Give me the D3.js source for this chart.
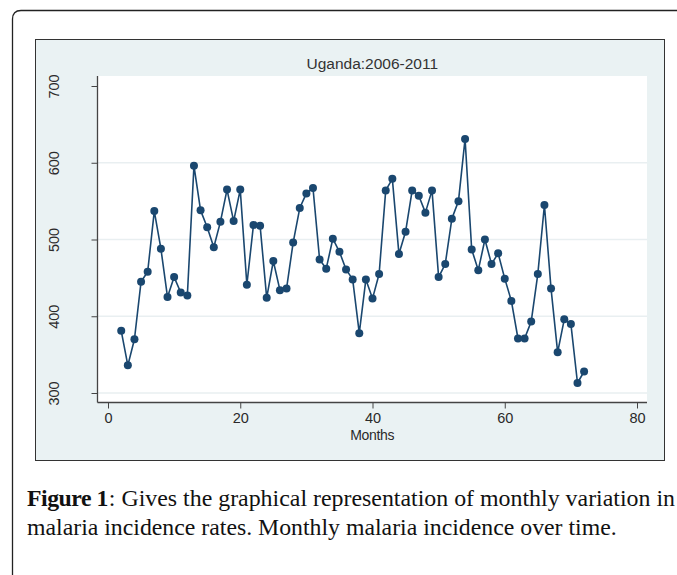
<!DOCTYPE html>
<html>
<head>
<meta charset="utf-8">
<title>Uganda:2006-2011</title>
<script src="https://d3js.org/d3.v7.min.js"></script>
<style>
  body { margin: 0; background: #fff; }
</style>
</head>
<body>
<div id="my_dataviz"></div>
<script>

// data: month index and monthly incidence
var months = [2, 3, 4, 5, 6, 7, 8, 9, 10, 11, 12, 13, 14, 15, 16, 17, 18, 19, 20, 21,
  22, 23, 24, 25, 26, 27, 28, 29, 30, 31, 32, 33, 34, 35, 36, 37, 38, 39, 40, 41,
  42, 43, 44, 45, 46, 47, 48, 49, 50, 51, 52, 53, 54, 55, 56, 57, 58, 59, 60, 61,
  62, 63, 64, 65, 66, 67, 68, 69, 70, 71, 72];
var incidence = [381, 336, 370, 445, 458, 537, 488, 425, 451, 431, 427, 596, 538, 516, 490, 523, 565, 524, 565, 441,
  519, 518, 424, 472, 434, 436, 496, 541, 560, 567, 474, 462, 501, 484, 461, 448, 378, 448, 423, 455,
  564, 579, 481, 510, 564, 557, 535, 564, 451, 468, 527, 550, 631, 487, 460, 500, 468, 482, 449, 420,
  371, 371, 393, 455, 545, 436, 353, 396, 390, 313, 328];

var xTicks = [0, 20, 40, 60, 80];
var yTicks = [300, 400, 500, 600, 700];
var gridTicks = [300, 400, 500, 600];

var chartTitle = "Uganda:2006-2011";
var xLabel = "Months";
var captionBold = "Figure 1";
var captionRest = ": Gives the graphical representation of monthly variation in";
var captionLine2 = "malaria incidence rates. Monthly malaria incidence over time.";

var W = 677, H = 575;
var navy = "#1a476f";

var svg = d3.select("#my_dataviz")
  .append("svg")
    .attr("width", W)
    .attr("height", H)
    .style("display", "block");

// page card outline (rounded top-left corner, runs off the right and bottom)
svg.append("path")
  .attr("d", "M12.5,590 V19 Q12.5,10.5 21,10.5 H690")
  .attr("fill", "none")
  .attr("stroke", "#222")
  .attr("stroke-width", 1.3);

// stata-style grey panel
svg.append("rect")
  .attr("x", 35.5).attr("y", 39.5)
  .attr("width", 629).attr("height", 421)
  .attr("fill", "#eaf2f3")
  .attr("stroke", "#333")
  .attr("stroke-width", 1);

// plot region
var plot = {left: 97.5, right: 647, top: 76, bottom: 402.5};
svg.append("rect")
  .attr("x", plot.left).attr("y", plot.top)
  .attr("width", plot.right - plot.left).attr("height", plot.bottom - plot.top)
  .attr("fill", "#fff");

var x = d3.scaleLinear()
  .domain([0, 80])
  .range([108, 637]);

var y = d3.scaleLinear()
  .domain([300, 700])
  .range([393, 86]);

// grid lines
svg.append("g")
  .selectAll("line")
  .data(gridTicks)
  .enter()
  .append("line")
    .attr("x1", plot.left).attr("x2", plot.right)
    .attr("y1", function(d) { return y(d); })
    .attr("y2", function(d) { return y(d); })
    .attr("stroke", "#e9eff1")
    .attr("stroke-width", 1.6);

// X axis
var xAxis = svg.append("g")
  .attr("transform", "translate(0," + plot.bottom + ")")
  .call(d3.axisBottom(x).tickValues(xTicks).tickSize(6).tickPadding(4).tickSizeOuter(0));
xAxis.select(".domain").attr("d", "M" + plot.left + ",0H" + plot.right);

// Y axis
var yAxis = svg.append("g")
  .attr("transform", "translate(" + plot.left + ",0)")
  .call(d3.axisLeft(y).tickValues(yTicks).tickSize(6).tickSizeOuter(0));
yAxis.select(".domain").attr("d", "M0," + plot.top + "V" + plot.bottom);

[xAxis, yAxis].forEach(function(ax) {
  ax.select(".domain").attr("stroke", "#444").attr("stroke-width", 1.3);
  ax.selectAll(".tick line").attr("stroke", "#444").attr("stroke-width", 1);
  ax.selectAll(".tick text")
    .attr("fill", "#2a2a2a")
    .style("font-family", "'Liberation Sans', Arial, sans-serif")
    .style("font-size", "14.5px");
});

xAxis.selectAll(".tick text").attr("y", 10).attr("dy", "0.71em");

// rotated y labels
yAxis.selectAll(".tick text")
  .attr("x", null).attr("dy", null)
  .attr("text-anchor", "middle")
  .attr("transform", "translate(-39,0) rotate(-90)")
  .attr("y", 0);

// title
svg.append("text")
  .attr("x", (plot.left + plot.right) / 2)
  .attr("y", 69)
  .attr("text-anchor", "middle")
  .attr("fill", "#333")
  .style("font-family", "'Liberation Sans', Arial, sans-serif")
  .style("font-size", "15.5px")
  .text(chartTitle);

// x label
svg.append("text")
  .attr("x", (plot.left + plot.right) / 2)
  .attr("y", 440)
  .attr("text-anchor", "middle")
  .attr("fill", "#2a2a2a")
  .style("font-family", "'Liberation Sans', Arial, sans-serif")
  .style("font-size", "14px")
  .style("letter-spacing", "-0.3px")
  .text(xLabel);

// the series line
svg.append("path")
  .datum(months)
  .attr("fill", "none")
  .attr("stroke", navy)
  .attr("stroke-width", 1.6)
  .attr("stroke-linejoin", "round")
  .attr("d", d3.line()
    .x(function(d) { return x(d); })
    .y(function(d, i) { return y(incidence[i]); })
  );

// markers
svg.append("g")
  .selectAll("circle")
  .data(months)
  .enter()
  .append("circle")
    .attr("cx", function(d) { return x(d); })
    .attr("cy", function(d, i) { return y(incidence[i]); })
    .attr("r", 4)
    .attr("fill", navy);

// caption under the figure
var capFont = "'Liberation Serif', 'Times New Roman', serif";
var capLeft = 27;

var cap2 = svg.append("text")
  .attr("x", capLeft)
  .attr("y", 535)
  .attr("fill", "#111")
  .style("font-family", capFont)
  .style("font-size", "22px")
  .text(captionLine2);

// fit the caption size to the second line (it ends near x=617)
var w2 = cap2.node().getComputedTextLength();
var capSize = 22 * (617 - capLeft) / w2;
cap2.style("font-size", capSize + "px");

var capB = svg.append("text")
  .attr("x", capLeft)
  .attr("y", 506)
  .attr("fill", "#111")
  .style("font-family", capFont)
  .style("font-size", capSize + "px")
  .style("font-weight", "bold")
  .style("letter-spacing", "-0.5px")
  .text(captionBold);

var wb = capB.node().getComputedTextLength();

// rest of first line squeezed so "in" ends at the right edge like the source
svg.append("text")
  .attr("x", capLeft + wb + 1)
  .attr("y", 506)
  .attr("fill", "#111")
  .style("font-family", capFont)
  .style("font-size", capSize + "px")
  .attr("textLength", 675 - (capLeft + wb + 1))
  .attr("lengthAdjust", "spacingAndGlyphs")
  .text(captionRest);

</script>
</body>
</html>
